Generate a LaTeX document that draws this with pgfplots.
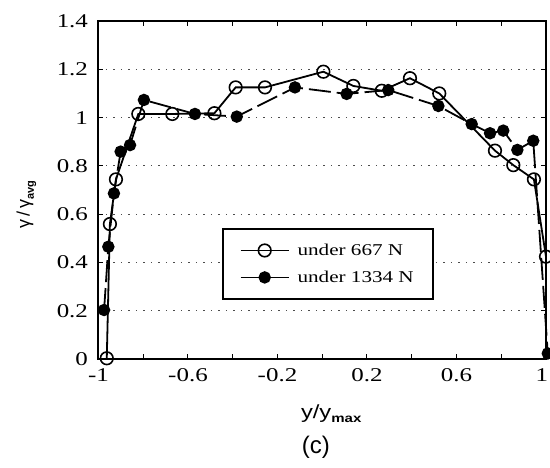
\documentclass[border=0pt]{standalone}
\usepackage{fontspec}
\usepackage{graphicx}
\setmainfont{Liberation Serif}
\newfontfamily\arial{Liberation Sans}
\newcommand\sx[1]{\scalebox{1.28}[1]{#1}}
\usepackage{pgfplots}
\pgfplotsset{compat=1.18}

\pgfplotstableread{
x y
-0.963 0.003
-0.949 0.559
-0.922 0.744
-0.822 1.015
-0.670 1.015
-0.482 1.018
-0.387 1.125
-0.256 1.125
0.005 1.190
0.139 1.131
0.266 1.111
0.392 1.163
0.523 1.100
0.772 0.863
0.854 0.803
0.946 0.744
1.000 0.424
}\lowload

\pgfplotstableread{
x y
-0.975 0.203
-0.956 0.465
-0.931 0.686
-0.901 0.859
-0.859 0.886
-0.797 1.073
-0.569 1.015
-0.382 1.004
-0.122 1.125
0.109 1.098
0.295 1.114
0.519 1.048
0.668 0.973
0.750 0.935
0.809 0.946
0.872 0.866
0.943 0.904
1.008 0.023
}\highload

\begin{document}
\begin{tikzpicture}
\begin{axis}[
  scale only axis, width=447.5pt, height=338pt,
  xmin=-1, xmax=1, ymin=0, ymax=1.4,
  xtick={-1,-0.8,-0.6,-0.4,-0.2,0,0.2,0.4,0.6,0.8,1},
  xticklabels={\sx{-1},,\sx{-0.6},,\sx{-0.2},,\sx{0.2},,\sx{0.6},,\makebox[4pt][r]{\sx{1}}},
  ytick={0,0.2,0.4,0.6,0.8,1,1.2,1.4},
  yticklabels={\sx{0},\sx{0.2},\sx{0.4},\sx{0.6},\sx{0.8},\sx{1},\sx{1.2},\sx{1.4}},
  tick align=inside, major tick length=5pt,
  tick style={line width=1pt, black},
  axis line style={line width=2pt},
  ymajorgrids,
  grid style={dash pattern=on 1.5pt off 6pt, line width=1pt, black!70},
  ticklabel style={font=\fontsize{19.5}{20}\selectfont},
  xticklabel style={yshift=-6pt},
  yticklabel style={xshift=-7pt},
  clip=false,
  legend style={at={(rel axis cs:0.276,0.387)}, anchor=north west,
    draw=black, line width=1.6pt, fill=white,
    font=\fontsize{16.5}{17}\selectfont,
    inner xsep=17pt, inner ysep=13pt, row sep=10pt,
    /tikz/every odd column/.append style={column sep=6pt}},
  legend cell align=left,
  legend image code/.code={
    \draw[mark repeat=2, mark phase=2, #1, solid]
      plot coordinates {(0pt,0pt) (24pt,0pt) (48pt,0pt)};},
]
\addplot[black, line width=1.8pt, mark=o, mark size=6.3pt,
  mark options={solid, fill=white, line width=1.6pt}] table[x=x,y=y] {\lowload};
\addlegendentry{\sx{under 667 N}}
\addplot[black, line width=1.8pt, dash pattern=on 22pt off 6pt,
  mark=*, mark size=5.3pt, mark options={solid, fill=black}] table[x=x,y=y] {\highload};
\addlegendentry{\sx{under 1334 N}}

\node[anchor=base, font=\arial\fontsize{19}{20}\selectfont]
  at ([yshift=-59pt]rel axis cs:0.52,0) {\scalebox{1.25}[1]{y/y\raisebox{-0.45ex}{\fontsize{12}{12}\selectfont\bfseries max}}};
\node[anchor=base, font=\arial\fontsize{24}{25}\selectfont]
  at ([yshift=-94pt]rel axis cs:0.486,0) {(c)};
\node[rotate=90, anchor=center, font=\arial\fontsize{18}{18}\selectfont]
  at ([xshift=-72pt]rel axis cs:0,0.456) {γ\,/\,γ\raisebox{-0.45ex}{\fontsize{11}{11}\selectfont\bfseries avg}};
\end{axis}
\pgfresetboundingbox
\path[use as bounding box] (-98.5pt,-108pt) rectangle (451.5pt,359pt);
\end{tikzpicture}
\end{document}
